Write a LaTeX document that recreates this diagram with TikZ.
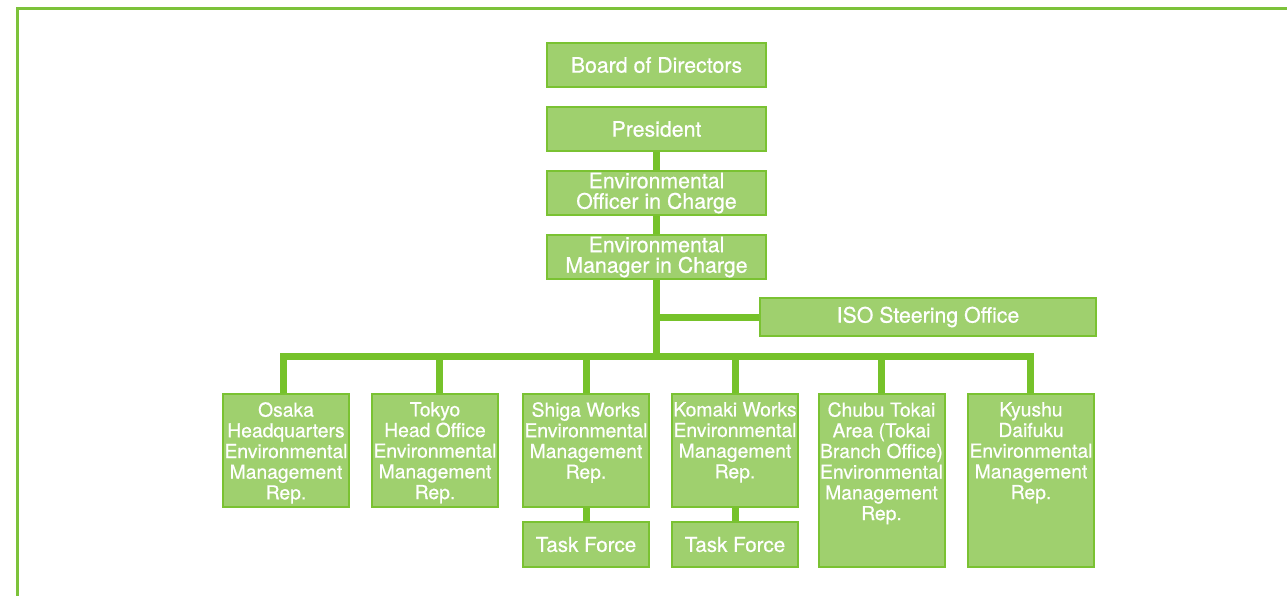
\documentclass[tikz,border=0pt]{standalone}
\usepackage{fontspec}
\setmainfont{TeX Gyre Heros}[FakeBold=0.6]
\definecolor{boxfill}{HTML}{9FD06E}
\definecolor{boxline}{HTML}{7AC232}
\definecolor{conn}{HTML}{76C22A}
\definecolor{frame}{HTML}{7CC23A}
\begin{document}
\begin{tikzpicture}[x=1pt,y=-1pt,
  topbox/.style={draw=boxline,line width=2pt,fill=boxfill,text=white,inner sep=0pt,
    minimum width=219pt,minimum height=44pt,align=center,font=\fontsize{21.3}{20.5}\selectfont},
  botbox/.style={draw=boxline,line width=2pt,fill=boxfill,inner sep=0pt,
    minimum width=126pt,minimum height=113pt},
  tallbox/.style={botbox,minimum height=173pt},
  tfbox/.style={draw=boxline,line width=2pt,fill=boxfill,text=white,inner sep=0pt,
    minimum width=126pt,minimum height=45pt,font=\fontsize{20.6}{20}\selectfont},
  bottext/.style={anchor=north,inner sep=0pt,text=white,align=center,yshift=-9pt,
    font=\fontsize{19.3}{20.7}\selectfont},
  link/.style={draw=conn,line width=7pt},
]
\useasboundingbox (0,0) rectangle (1287,595);
\draw[frame,line width=2.6pt] (17.5,596) -- (17.5,8.5) -- (1288,8.5);

% top chain
\node[topbox] (board) at (656.5,65) {\raisebox{-1.5pt}{Board of Directors}};
\node[topbox] (pres) at (656.5,129) {\raisebox{-1.5pt}{President}};
\node[topbox] (officer) at (656.5,193) {Environmental\\Officer in Charge};
\node[topbox] (manager) at (656.5,257) {Environmental\\Manager in Charge};
\node[topbox,minimum width=336pt,minimum height=38pt] (iso) at (928,317) {\raisebox{-1.5pt}{ISO Steering Office}};

% bottom boxes
\node[botbox] (osaka) at (286,450.5) {};
\node[botbox] (tokyo) at (435,450.5) {};
\node[botbox] (shiga) at (586,450.5) {};
\node[botbox] (komaki) at (735,450.5) {};
\node[tallbox] (chubu) at (881.5,480.5) {};
\node[tallbox] (kyushu) at (1031,480.5) {};
\node[tfbox] (shigatf) at (586,544.5) {\raisebox{-1.5pt}{Task Force}};
\node[tfbox] (komakitf) at (735,544.5) {\raisebox{-1.5pt}{Task Force}};

\node[bottext] (osakat) at (osaka.north) {Osaka\\Headquarters\\Environmental\\Management\\Rep.};
\node[bottext] (tokyot) at (tokyo.north) {Tokyo\\Head Office\\Environmental\\Management\\Rep.};
\node[bottext] (shigat) at (shiga.north) {Shiga Works\\Environmental\\Management\\Rep.};
\node[bottext] (komakit) at (komaki.north) {Komaki Works\\Environmental\\Management\\Rep.};
\node[bottext] (chubut) at (chubu.north) {Chubu Tokai\\Area (Tokai\\Branch Office)\\Environmental\\Management\\Rep.};
\node[bottext] (kyushut) at (kyushu.north) {Kyushu\\Daifuku\\Environmental\\Management\\Rep.};

% connectors
\coordinate (busmid) at (656.5,356.5);
\coordinate (isojoin) at (656.5,317);
\coordinate (busL) at (283,356.5);
\coordinate (busR) at (1030.5,356.5);
\path[link] (pres.south) -- (officer.north);
\path[link] (officer.south) -- (manager.north);
\path[link] (manager.south) -- (busmid);
\path[link] (isojoin) -- (iso.west);
\path[link,line cap=rect] (busL) -- (busR);
\path[link] (busL) -- (osaka.north -| busL);
\path[link] (tokyo.north) ++(4.5,0) coordinate (tk) (tk |- busmid) -- (tk);
\path[link] (shiga.north |- busmid) -- (shiga.north);
\path[link] (komaki.north |- busmid) -- (komaki.north);
\path[link] (chubu.north |- busmid) -- (chubu.north);
\path[link] (busR) -- (kyushu.north -| busR);
\path[link] (shiga.south) -- (shigatf.north);
\path[link] (komaki.south) -- (komakitf.north);
\end{tikzpicture}
\end{document}
